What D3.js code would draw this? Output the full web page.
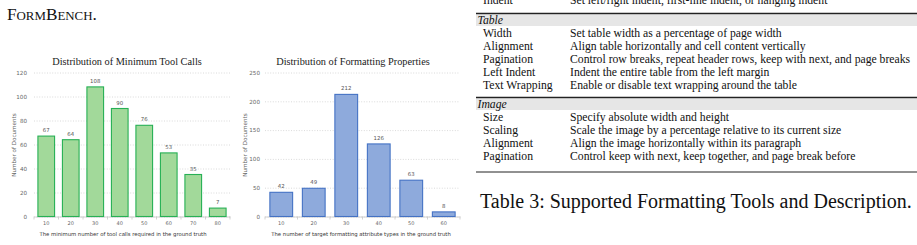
<!DOCTYPE html>
<html>
<head>
<meta charset="utf-8">
<script src="https://cdn.jsdelivr.net/npm/d3@7"></script>
<style>
  html, body { margin: 0; padding: 0; background: #fff; }
  svg { display: block; }
</style>
</head>
<body>
<svg id="page" width="917" height="245"></svg>
<script>

// Chart 1: minimum tool calls
const callCategories = ["10", "20", "30", "40", "50", "60", "70", "80"];
const callCounts = [67, 64, 108, 90, 76, 53, 35, 7];
const callTicks = [0, 20, 40, 60, 80, 100, 120];

// Chart 2: formatting properties
const propCategories = ["10", "20", "30", "40", "50", "60"];
const propCounts = [42, 49, 212, 126, 63, 8];
const propTicks = [0, 50, 100, 150, 200, 250];

// Table rows
const tableSections = ["Table", "Image"];
const tableTools = [
    ["Width", "Alignment", "Pagination", "Left Indent", "Text Wrapping"],
    ["Size", "Scaling", "Alignment", "Pagination"]
];
const tableDescriptions = [
    [
        "Set table width as a percentage of page width",
        "Align table horizontally and cell content vertically",
        "Control row breaks, repeat header rows, keep with next, and page breaks",
        "Indent the entire table from the left margin",
        "Enable or disable text wrapping around the table"
    ],
    [
        "Specify absolute width and height",
        "Scale the image by a percentage relative to its current size",
        "Align the image horizontally within its paragraph",
        "Control keep with next, keep together, and page break before"
    ]
];

const svg = d3.select("#page");

// Heading fragment at top-left
const head = svg.append("text")
    .attr("x", 7)
    .attr("y", 20)
    .attr("font-family", "Liberation Serif")
    .attr("fill", "#111");
head.append("tspan").attr("font-size", 17.2).text("F");
head.append("tspan").attr("font-size", 12.9).text("ORM");
head.append("tspan").attr("font-size", 17.2).text("B");
head.append("tspan").attr("font-size", 12.9).text("ENCH");
head.append("tspan").attr("font-size", 17.2).text(".");

function drawBars(opt){

    const g = svg.append("g");

    const x = d3.scaleBand()
        .domain(opt.categories)
        .range([opt.x0, opt.x1])
        .paddingInner(opt.pad)
        .paddingOuter(opt.pad / 2);

    const y = d3.scaleLinear()
        .domain([0, opt.ticks[opt.ticks.length - 1]])
        .range([opt.yBottom, opt.yTop]);

    // gridlines + y labels
    const yAxis = g.append("g")
        .attr("transform", `translate(${opt.x0},0)`)
        .call(d3.axisLeft(y)
            .tickValues(opt.ticks)
            .tickSize(-(opt.x1 - opt.x0))
            .tickPadding(opt.labelGap));

    yAxis.select(".domain").remove();
    yAxis.selectAll("line")
        .attr("stroke", "#d0d0d0")
        .attr("stroke-width", 0.8)
        .attr("stroke-dasharray", "1,1.6");
    yAxis.selectAll("text")
        .attr("fill", "#666")
        .style("font-family", "DejaVu Sans")
        .style("font-size", "5.6px");

    // x axis
    const xAxis = g.append("g")
        .attr("transform", `translate(0,${opt.yBottom})`)
        .call(d3.axisBottom(x).tickSize(0).tickSizeOuter(0).tickPadding(5));

    xAxis.select(".domain")
        .attr("stroke", "#c8c8c8")
        .attr("stroke-width", 0.8);
    xAxis.selectAll("text")
        .attr("fill", "#666")
        .style("font-family", "DejaVu Sans")
        .style("font-size", "5px");

    // category boundary ticks
    g.selectAll(".bound")
        .data(d3.range(opt.categories.length + 1))
        .enter()
        .append("line")
        .attr("x1", i => opt.x0 + i * x.step())
        .attr("x2", i => opt.x0 + i * x.step())
        .attr("y1", opt.yBottom)
        .attr("y2", opt.yBottom + 3)
        .attr("stroke", "#c8c8c8")
        .attr("stroke-width", 0.8);

    // bars
    g.selectAll(".bar")
        .data(opt.values)
        .enter()
        .append("rect")
        .attr("x", (d, i) => x(opt.categories[i]))
        .attr("y", d => y(d))
        .attr("width", x.bandwidth())
        .attr("height", d => y(0) - y(d))
        .attr("fill", opt.fill)
        .attr("stroke", opt.stroke)
        .attr("stroke-width", 1.1);

    // value labels
    g.selectAll(".val")
        .data(opt.values)
        .enter()
        .append("text")
        .attr("x", (d, i) => x(opt.categories[i]) + x.bandwidth() / 2)
        .attr("y", d => y(d) - 4)
        .attr("text-anchor", "middle")
        .attr("fill", "#555")
        .style("font-family", "DejaVu Sans")
        .style("font-size", "5.4px")
        .text(d => d);

    // title
    g.append("text")
        .attr("x", opt.titleX)
        .attr("y", 65)
        .attr("text-anchor", "middle")
        .attr("fill", "#1a1a1a")
        .style("font-family", "Liberation Serif")
        .style("font-size", "10.3px")
        .text(opt.title);

    // x title
    g.append("text")
        .attr("x", opt.xTitleX)
        .attr("y", 236)
        .attr("text-anchor", "middle")
        .attr("fill", "#333")
        .style("font-family", "DejaVu Sans")
        .style("font-size", "5.3px")
        .text(opt.xTitle);

    // y title
    g.append("text")
        .attr("transform", `translate(${opt.yTitleX},145) rotate(-90)`)
        .attr("text-anchor", "middle")
        .attr("fill", "#666")
        .style("font-family", "DejaVu Sans")
        .style("font-size", "5.6px")
        .text("Number of Documents");
}

drawBars({
    categories: callCategories,
    values: callCounts,
    ticks: callTicks,
    x0: 34, x1: 230, yTop: 72.5, yBottom: 216.5,
    pad: 0.32, labelGap: 7,
    fill: "#a2d99a", stroke: "#27b055",
    title: "Distribution of Minimum Tool Calls",
    titleX: 127,
    xTitle: "The minimum number of tool calls required in the ground truth",
    xTitleX: 123,
    yTitleX: 16
});

drawBars({
    categories: propCategories,
    values: propCounts,
    ticks: propTicks,
    x0: 265, x1: 460, yTop: 72.5, yBottom: 216.5,
    pad: 0.3, labelGap: 5,
    fill: "#8eaadc", stroke: "#4472c4",
    title: "Distribution of Formatting Properties",
    titleX: 353,
    xTitle: "The number of target formatting attribute types in the ground truth",
    xTitleX: 361,
    yTitleX: 247
});

// Table
const tx0 = 476, tx1 = 917, colA = 483, colB = 570;
const tableFont = "Liberation Serif";

const tbl = svg.append("g")
    .style("font-family", tableFont)
    .style("font-size", "11.7px")
    .attr("fill", "#111");

// row cut at top
tbl.append("text").attr("x", colA).attr("y", 4).text("Indent");
tbl.append("text").attr("x", colB).attr("y", 4)
    .text("Set left/right indent, first-line indent, or hanging indent");

const sectionRule = [13.5, 97.5];

tableSections.forEach((name, s) => {
    const r = sectionRule[s];

    tbl.append("rect")
        .attr("x", tx0).attr("y", r + 1)
        .attr("width", tx1 - tx0).attr("height", 11.5)
        .attr("fill", "#e6e6e6");

    tbl.append("line")
        .attr("x1", tx0).attr("x2", tx1)
        .attr("y1", r).attr("y2", r)
        .attr("stroke", "#222").attr("stroke-width", 1.4);

    tbl.append("text")
        .attr("x", tx0 + 1.5)
        .attr("y", r + 10.5)
        .style("font-style", "italic")
        .text(name);

    tableTools[s].forEach((t, i) => {
        const yy = r + 23.5 + i * 13;
        tbl.append("text").attr("x", colA).attr("y", yy).text(t);
        tbl.append("text").attr("x", colB).attr("y", yy).text(tableDescriptions[s][i]);
    });
});

tbl.append("line")
    .attr("x1", tx0).attr("x2", tx1)
    .attr("y1", 172).attr("y2", 172)
    .attr("stroke", "#222").attr("stroke-width", 1);

svg.append("text")
    .attr("x", 480)
    .attr("y", 208)
    .attr("fill", "#111")
    .style("font-family", tableFont)
    .style("font-size", "20px")
    .text("Table 3: Supported Formatting Tools and Description.");

</script>
</body>
</html>
